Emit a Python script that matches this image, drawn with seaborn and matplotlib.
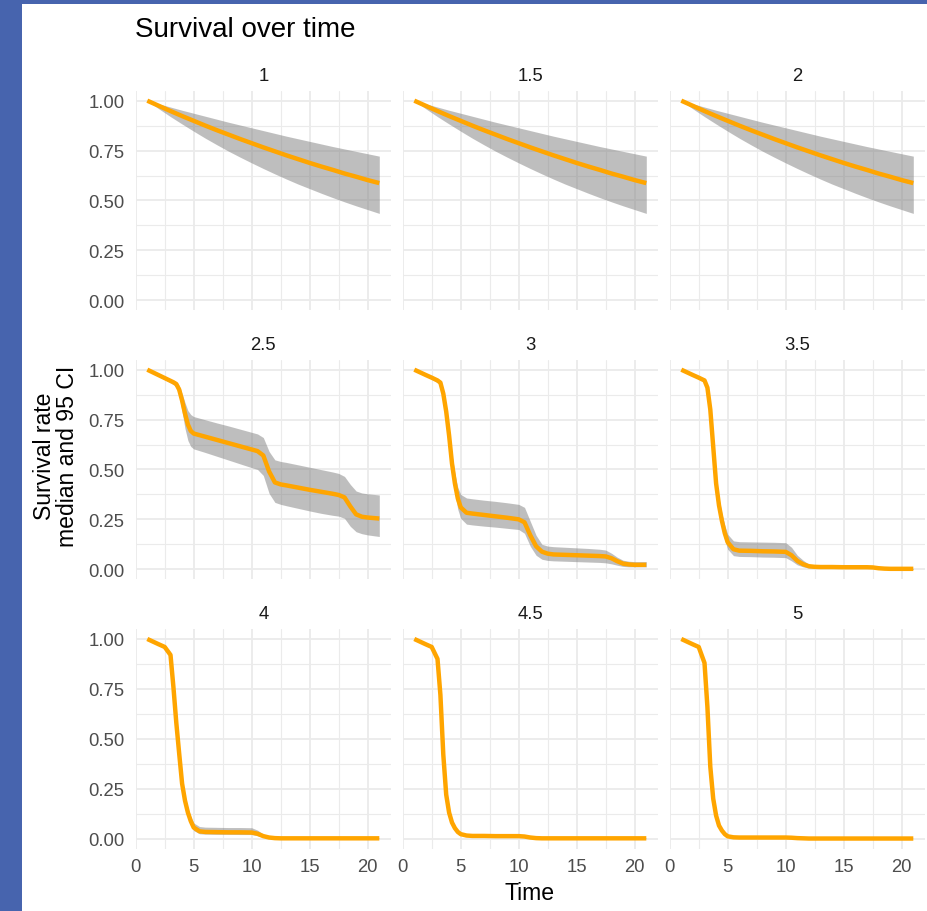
import matplotlib
matplotlib.use("Agg")
import matplotlib.pyplot as plt
from matplotlib.patches import Rectangle
from matplotlib.ticker import MultipleLocator, FixedLocator, FormatStrFormatter
import pandas as pd
import seaborn as sns

# ---------------------------------------------------------------------------
# Data: median survival and 95% interval per dose level
# ---------------------------------------------------------------------------
DOSES = ["1", "1.5", "2", "2.5", "3", "3.5", "4", "4.5", "5"]

# doses 1, 1.5 and 2 share the same smooth decline, sampled daily
T_DAILY = [1, 2, 3, 4, 5, 6, 7, 8, 9, 10, 11, 12, 13, 14, 15, 16, 17, 18, 19, 20, 21]
MED_LOW = [1.000, 0.974, 0.948, 0.923, 0.899, 0.875, 0.852, 0.830, 0.808, 0.787, 0.766,
           0.746, 0.726, 0.707, 0.688, 0.670, 0.653, 0.635, 0.619, 0.602, 0.587]
HI_LOW = [1.000, 0.984, 0.968, 0.952, 0.937, 0.922, 0.907, 0.892, 0.878, 0.864, 0.850,
          0.836, 0.822, 0.809, 0.796, 0.783, 0.770, 0.758, 0.746, 0.734, 0.722]
LO_LOW = [1.000, 0.959, 0.920, 0.883, 0.847, 0.812, 0.779, 0.747, 0.717, 0.688, 0.660,
          0.633, 0.607, 0.582, 0.559, 0.536, 0.514, 0.493, 0.473, 0.454, 0.435]

# higher doses, sampled more finely around the drops
T_FINE = [1, 2, 2.5, 3, 3.25, 3.5, 3.75, 4, 4.25, 4.5, 4.75, 5, 5.5, 6, 7, 8, 9, 10,
          10.5, 11, 11.5, 12, 12.5, 13, 14, 15, 16, 17, 17.5, 18, 18.5, 19, 19.5, 20, 21]

MED_25 = [1.000, 0.972, 0.958, 0.944, 0.937, 0.928, 0.900, 0.845, 0.780, 0.725, 0.693, 0.680,
          0.672, 0.664, 0.648, 0.632, 0.616, 0.600, 0.592, 0.570, 0.490, 0.435, 0.425, 0.420,
          0.409, 0.398, 0.388, 0.378, 0.372, 0.360, 0.315, 0.275, 0.263, 0.259, 0.254]
HI_25 = [1.000, 0.976, 0.964, 0.952, 0.946, 0.940, 0.920, 0.880, 0.835, 0.795, 0.775, 0.765,
         0.757, 0.749, 0.733, 0.718, 0.702, 0.686, 0.678, 0.660, 0.590, 0.548, 0.540, 0.535,
         0.523, 0.511, 0.499, 0.487, 0.480, 0.465, 0.425, 0.392, 0.382, 0.378, 0.372]
LO_25 = [1.000, 0.966, 0.950, 0.934, 0.925, 0.912, 0.870, 0.790, 0.705, 0.645, 0.615, 0.603,
         0.594, 0.585, 0.566, 0.547, 0.528, 0.509, 0.500, 0.470, 0.380, 0.335, 0.325, 0.318,
         0.305, 0.292, 0.280, 0.270, 0.266, 0.255, 0.215, 0.188, 0.178, 0.172, 0.164]

MED_3 = [1.000, 0.973, 0.960, 0.946, 0.935, 0.880, 0.790, 0.670, 0.530, 0.430, 0.355, 0.310,
         0.283, 0.279, 0.272, 0.265, 0.258, 0.250, 0.235, 0.170, 0.115, 0.088, 0.078, 0.074,
         0.072, 0.070, 0.068, 0.066, 0.064, 0.055, 0.040, 0.028, 0.024, 0.022, 0.022]
HI_3 = [1.000, 0.977, 0.966, 0.955, 0.948, 0.905, 0.820, 0.705, 0.575, 0.480, 0.410, 0.375,
        0.357, 0.353, 0.346, 0.340, 0.333, 0.325, 0.310, 0.240, 0.170, 0.125, 0.116, 0.113,
        0.110, 0.107, 0.104, 0.100, 0.096, 0.080, 0.060, 0.045, 0.040, 0.038, 0.038]
LO_3 = [1.000, 0.968, 0.952, 0.935, 0.918, 0.850, 0.755, 0.630, 0.485, 0.380, 0.300, 0.255,
        0.226, 0.222, 0.216, 0.211, 0.205, 0.199, 0.180, 0.115, 0.070, 0.050, 0.044, 0.042,
        0.040, 0.038, 0.036, 0.034, 0.032, 0.027, 0.020, 0.014, 0.012, 0.012, 0.012]

MED_35 = [1.000, 0.973, 0.960, 0.946, 0.910, 0.800, 0.615, 0.430, 0.320, 0.243, 0.180, 0.135,
          0.100, 0.093, 0.092, 0.090, 0.089, 0.087, 0.070, 0.042, 0.025, 0.015, 0.012, 0.011,
          0.011, 0.010, 0.010, 0.010, 0.009, 0.005, 0.003, 0.002, 0.002, 0.002, 0.002]
HI_35 = [1.000, 0.977, 0.966, 0.955, 0.925, 0.822, 0.645, 0.465, 0.355, 0.280, 0.220, 0.175,
         0.142, 0.138, 0.137, 0.136, 0.135, 0.133, 0.110, 0.070, 0.045, 0.025, 0.020, 0.018,
         0.017, 0.016, 0.016, 0.015, 0.014, 0.009, 0.006, 0.005, 0.004, 0.004, 0.004]
LO_35 = [1.000, 0.968, 0.952, 0.936, 0.893, 0.775, 0.585, 0.395, 0.285, 0.205, 0.145, 0.100,
         0.068, 0.064, 0.063, 0.061, 0.060, 0.058, 0.042, 0.022, 0.012, 0.006, 0.005, 0.005,
         0.005, 0.004, 0.004, 0.004, 0.004, 0.002, 0.001, 0.001, 0.000, 0.000, 0.000]

MED_4 = [1.000, 0.973, 0.960, 0.920, 0.760, 0.580, 0.425, 0.275, 0.190, 0.130, 0.087, 0.055,
         0.036, 0.033, 0.032, 0.031, 0.031, 0.030, 0.024, 0.012, 0.005, 0.002, 0.001, 0.001,
         0.001, 0.001, 0.001, 0.001, 0.001, 0.001, 0.001, 0.001, 0.001, 0.001, 0.001]
HI_4 = [1.000, 0.977, 0.966, 0.935, 0.780, 0.605, 0.450, 0.300, 0.215, 0.155, 0.110, 0.078,
        0.060, 0.057, 0.056, 0.055, 0.055, 0.054, 0.042, 0.022, 0.010, 0.004, 0.002, 0.002,
        0.002, 0.002, 0.002, 0.002, 0.002, 0.002, 0.002, 0.002, 0.002, 0.002, 0.002]
LO_4 = [1.000, 0.968, 0.952, 0.905, 0.740, 0.555, 0.400, 0.250, 0.165, 0.110, 0.068, 0.040,
        0.024, 0.022, 0.021, 0.021, 0.020, 0.020, 0.014, 0.006, 0.002, 0.001, 0.000, 0.000,
        0.000, 0.000, 0.000, 0.000, 0.000, 0.000, 0.000, 0.000, 0.000, 0.000, 0.000]

MED_45 = [1.000, 0.973, 0.960, 0.900, 0.720, 0.420, 0.220, 0.130, 0.080, 0.052, 0.033, 0.022,
          0.015, 0.013, 0.013, 0.012, 0.012, 0.012, 0.010, 0.005, 0.002, 0.001, 0.001, 0.001,
          0.001, 0.001, 0.001, 0.001, 0.001, 0.001, 0.001, 0.001, 0.001, 0.001, 0.001]
HI_45 = [1.000, 0.976, 0.964, 0.910, 0.735, 0.435, 0.232, 0.140, 0.088, 0.058, 0.038, 0.027,
         0.020, 0.018, 0.017, 0.017, 0.016, 0.016, 0.014, 0.008, 0.004, 0.002, 0.002, 0.002,
         0.002, 0.002, 0.002, 0.002, 0.002, 0.002, 0.002, 0.002, 0.002, 0.002, 0.002]
LO_45 = [1.000, 0.970, 0.955, 0.890, 0.705, 0.405, 0.208, 0.120, 0.072, 0.046, 0.028, 0.018,
         0.011, 0.010, 0.009, 0.009, 0.009, 0.008, 0.007, 0.003, 0.001, 0.000, 0.000, 0.000,
         0.000, 0.000, 0.000, 0.000, 0.000, 0.000, 0.000, 0.000, 0.000, 0.000, 0.000]

MED_5 = [1.000, 0.973, 0.960, 0.880, 0.660, 0.360, 0.200, 0.115, 0.065, 0.040, 0.022, 0.011,
         0.006, 0.005, 0.005, 0.005, 0.005, 0.005, 0.004, 0.002, 0.001, 0.000, 0.000, 0.000,
         0.000, 0.000, 0.000, 0.000, 0.000, 0.000, 0.000, 0.000, 0.000, 0.000, 0.000]
HI_5 = [1.000, 0.975, 0.963, 0.888, 0.670, 0.370, 0.208, 0.121, 0.070, 0.044, 0.025, 0.014,
        0.008, 0.007, 0.007, 0.007, 0.007, 0.007, 0.006, 0.004, 0.002, 0.001, 0.001, 0.001,
        0.001, 0.001, 0.001, 0.001, 0.001, 0.001, 0.001, 0.001, 0.001, 0.001, 0.001]
LO_5 = [1.000, 0.971, 0.957, 0.872, 0.650, 0.350, 0.192, 0.109, 0.060, 0.036, 0.019, 0.009,
        0.004, 0.004, 0.004, 0.004, 0.004, 0.004, 0.003, 0.001, 0.000, 0.000, 0.000, 0.000,
        0.000, 0.000, 0.000, 0.000, 0.000, 0.000, 0.000, 0.000, 0.000, 0.000, 0.000]

SERIES = {
    "1": (T_DAILY, MED_LOW, LO_LOW, HI_LOW),
    "1.5": (T_DAILY, MED_LOW, LO_LOW, HI_LOW),
    "2": (T_DAILY, MED_LOW, LO_LOW, HI_LOW),
    "2.5": (T_FINE, MED_25, LO_25, HI_25),
    "3": (T_FINE, MED_3, LO_3, HI_3),
    "3.5": (T_FINE, MED_35, LO_35, HI_35),
    "4": (T_FINE, MED_4, LO_4, HI_4),
    "4.5": (T_FINE, MED_45, LO_45, HI_45),
    "5": (T_FINE, MED_5, LO_5, HI_5),
}

X_TICKS = [0, 5, 10, 15, 20]
Y_TICKS = [0.00, 0.25, 0.50, 0.75, 1.00]

frames = []
for dose, (t, med, lo, hi) in SERIES.items():
    frames.append(pd.DataFrame({"dose": dose, "time": t, "median": med,
                                "lower": lo, "upper": hi}))
df = pd.concat(frames, ignore_index=True)

# ---------------------------------------------------------------------------
# Styling
# ---------------------------------------------------------------------------
sns.set_theme(style="white")
plt.rcParams["font.family"] = ["Liberation Sans", "DejaVu Sans"]

LINE_COLOR = "#FFA500"
BAND_COLOR = "#7F7F7F"
GRID_COLOR = "#EBEBEB"
TICK_COLOR = "#4D4D4D"
STRIP_COLOR = "#1A1A1A"
FRAME_BLUE = "#4764AE"

g = sns.FacetGrid(df, col="dose", col_wrap=3, col_order=DOSES,
                  sharex=True, sharey=True, height=2.5, aspect=1.1, despine=False)


def ci_band(data, **kws):
    ax = plt.gca()
    ax.fill_between(data["time"], data["lower"], data["upper"],
                    color=BAND_COLOR, alpha=0.5, linewidth=0, zorder=2)


g.map_dataframe(ci_band)
g.map_dataframe(sns.lineplot, x="time", y="median", color=LINE_COLOR,
                linewidth=3.2, estimator=None, sort=True, zorder=3,
                solid_capstyle="butt", solid_joinstyle="round")

fig = g.figure
fig.set_size_inches(9.27, 9.12)
W, H = 927.0, 912.0

col_left = [135.7, 402.7, 669.7]
row_top = [91.7, 360.7, 630.0]
pw, ph = 255.2, 219.5

g.set_titles("{col_name}")
g.set_axis_labels("", "")

for i, ax in enumerate(g.axes.flat):
    r, c = divmod(i, 3)
    ax.set_position([col_left[c] / W, 1 - (row_top[r] + ph) / H, pw / W, ph / H])
    ax.set_xlim(0, 22)
    ax.set_ylim(-0.05, 1.05)
    ax.set_facecolor("white")
    for s in ax.spines.values():
        s.set_visible(False)
    ax.xaxis.set_major_locator(FixedLocator(X_TICKS))
    ax.yaxis.set_major_locator(FixedLocator(Y_TICKS))
    ax.yaxis.set_major_formatter(FormatStrFormatter("%.2f"))
    ax.xaxis.set_minor_locator(MultipleLocator(2.5))
    ax.yaxis.set_minor_locator(MultipleLocator(0.125))
    ax.set_axisbelow(True)
    ax.grid(which="major", color=GRID_COLOR, linewidth=1.3, zorder=0)
    ax.grid(which="minor", color=GRID_COLOR, linewidth=0.8, zorder=0)
    ax.tick_params(which="both", length=0, labelsize=13.3, labelcolor=TICK_COLOR)
    ax.tick_params(axis="x", pad=6.5, labelbottom=(r == 2))
    ax.tick_params(axis="y", pad=8, labelleft=(c == 0))
    ax.set_title(DOSES[i], fontsize=13.3, color=STRIP_COLOR, pad=8)
    ax.set_xlabel("")
    ax.set_ylabel("")

# overall title and axis titles
fig.text(135.0 / W, 1 - 37.0 / H, "Survival over time", fontsize=20,
         color="black", ha="left", va="baseline")
fig.text(530.0 / W, 1 - 900.0 / H, "Time", fontsize=16.6,
         color="black", ha="center", va="baseline")
fig.text(56.0 / W, 0.5, "Survival rate\nmedian and 95 CI", fontsize=16.6,
         color="black", ha="center", va="center", rotation=90,
         multialignment="center", linespacing=0.95)

# framing bands along the left and top edges
fig.add_artist(Rectangle((0, 0), 22.0 / W, 1, transform=fig.transFigure,
                         facecolor=FRAME_BLUE, edgecolor="none", zorder=5))
fig.add_artist(Rectangle((0, 1 - 5.0 / H), 1, 5.0 / H, transform=fig.transFigure,
                         facecolor=FRAME_BLUE, edgecolor="none", zorder=5))

fig.savefig("out.png", dpi=100, facecolor="white")
